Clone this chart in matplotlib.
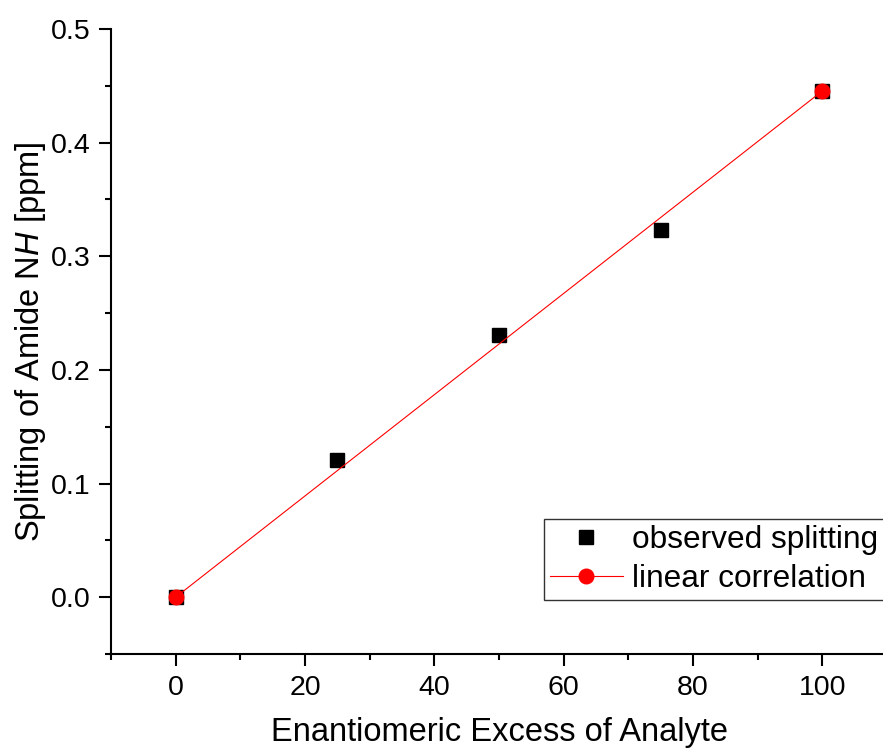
import matplotlib
matplotlib.use("Agg")
import matplotlib.pyplot as plt
from matplotlib.ticker import MultipleLocator, FormatStrFormatter

plt.rcParams['font.family'] = ['Liberation Sans', 'DejaVu Sans']
plt.rcParams['mathtext.fontset'] = 'custom'
plt.rcParams['mathtext.rm'] = 'Liberation Sans'
plt.rcParams['mathtext.it'] = 'Liberation Sans:italic'

ee = [0, 25, 50, 75, 100]
splitting = [0.0, 0.1205, 0.2305, 0.3235, 0.4455]
fit_x = [0, 100]
fit_y = [0.0, 0.4455]

W, H = 883, 754
fig = plt.figure(figsize=(W/100, H/100), dpi=100)
left, right, bottom, top = 111, 887, 654, 29
ax = fig.add_axes([left/W, (H-bottom)/H, (right-left)/W, (bottom-top)/H])

ax.plot(ee, splitting, 's', color='black', markersize=9.5, linestyle='none',
        label='observed splitting', zorder=3)
ax.plot(fit_x, fit_y, '-o', color='red', markersize=10.5, linewidth=0.8,
        label='linear correlation', zorder=4)

ax.set_xlim(-10, 110)
ax.set_ylim(-0.05, 0.5)
ax.xaxis.set_major_locator(MultipleLocator(20))
ax.xaxis.set_minor_locator(MultipleLocator(10))
ax.yaxis.set_major_locator(MultipleLocator(0.1))
ax.yaxis.set_minor_locator(MultipleLocator(0.05))
ax.yaxis.set_major_formatter(FormatStrFormatter('%.1f'))

for s in ['top', 'right']:
    ax.spines[s].set_visible(False)
for s in ['left', 'bottom']:
    ax.spines[s].set_linewidth(1.5)
ax.tick_params(which='major', direction='out', length=8.5, width=1.5, labelsize=20.5, pad=6.5)
ax.tick_params(which='minor', direction='out', length=4, width=1.5)

ax.set_xlabel('Enantiomeric Excess of Analyte', fontsize=23.5, labelpad=12)
ax.set_ylabel('Splitting of Amide N$\\mathit{H}$ [ppm]', fontsize=23.5, labelpad=2)

leg = ax.legend(loc='upper left', bbox_to_anchor=(544/W, (H-519)/H),
                bbox_transform=fig.transFigure, fontsize=22.8, frameon=True,
                fancybox=False, edgecolor='#333333', framealpha=1,
                handlelength=2.3, handletextpad=0.3, borderpad=0.18,
                labelspacing=0.3, borderaxespad=0)
leg.get_frame().set_linewidth(1.0)

fig.savefig('out.png', dpi=100)
